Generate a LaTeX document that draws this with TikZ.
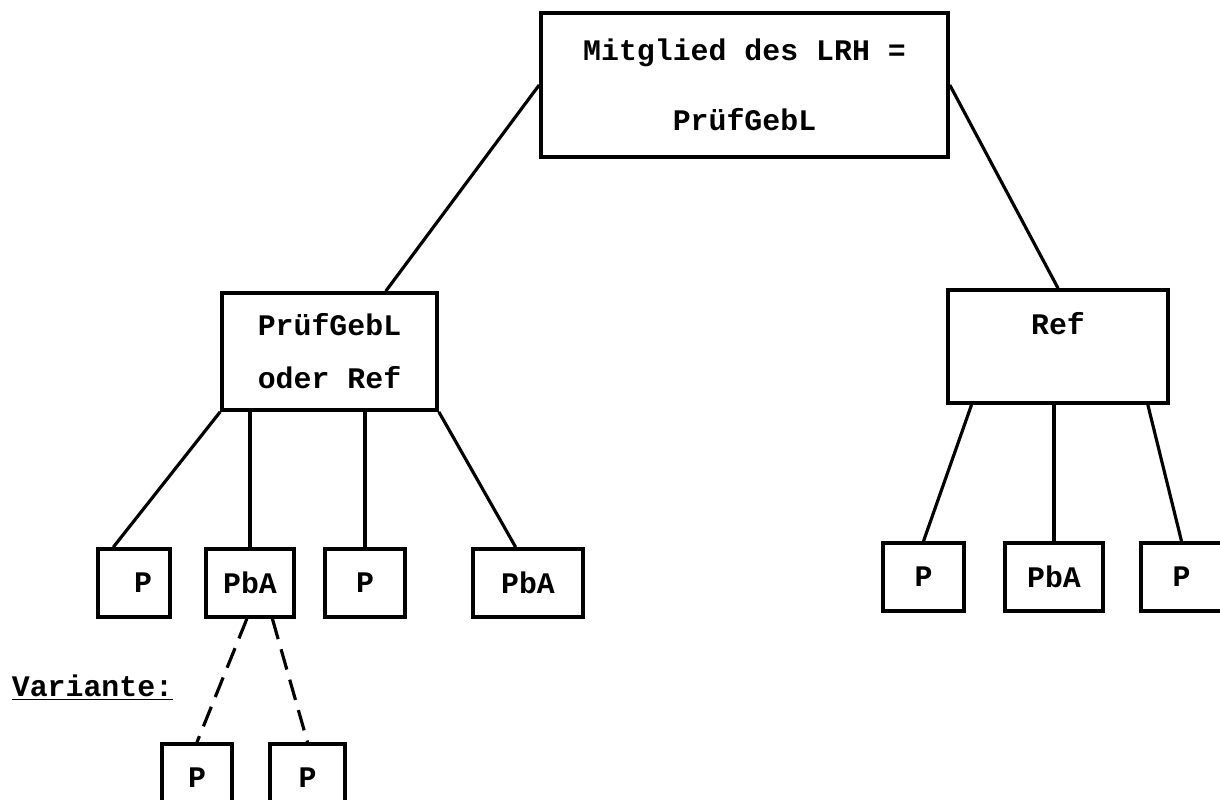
\documentclass[tikz,border=0pt]{standalone}
\usepackage{fontspec}
\setmonofont{Liberation Mono}
\begin{document}
\begin{tikzpicture}[x=0.02cm,y=-0.02cm]
	\tikzstyle{boxes} = [draw=black, line width=2.1pt, inner sep=0pt, align=center, font=\ttfamily\bfseries\fontsize{17}{20}\selectfont]
	\tikzstyle{head} = [boxes, minimum width=8.14cm, minimum height=2.88cm]
	\tikzstyle{group} = [boxes, minimum width=4.3cm, minimum height=2.34cm]
	\tikzstyle{leaf} = [boxes, minimum height=1.36cm]
	\tikzstyle{link} = [line width=1.8pt]
	\tikzstyle{variant} = [link, dash pattern=on 12pt off 6pt]
	
	\useasboundingbox (0,0) rectangle (1220,800);
	\clip (0,0) rectangle (1220,800);
	
	\node[head] (Head) at (744.5,85) {Mitglied des LRH =\\[0.7cm]PrüfGebL};
	\node[group] (Mixed) at (329.5,351.5) {PrüfGebL\\[0.36cm]oder Ref};
	\node[group, minimum width=4.4cm, minimum height=2.26cm] (Ref) at (1058,346.5) {Ref\\\strut};
	\draw[link] (Head.west) -- (Mixed.47);
	\draw[link] (Head.east) -- (Ref.north);
	
	\node[leaf, minimum width=1.44cm] (MixedP) at (134,583) {\hspace*{0.36cm}P};
	\node[leaf, minimum width=1.76cm] (MixedPbA) at (250,583) {PbA};
	\node[leaf, minimum width=1.6cm] (MixedPTwo) at (365,583) {P};
	\node[leaf, minimum width=2.2cm] (MixedPbATwo) at (528,583) {PbA};
	\draw[link] (Mixed.south west) -- (MixedP.120);
	\draw[link] (MixedPbA.north |- Mixed.south) -- (MixedPbA.north);
	\draw[link] (MixedPTwo.north |- Mixed.south) -- (MixedPTwo.north);
	\draw[link] (Mixed.south east) -- (MixedPbATwo.109);
	
	\node[leaf, minimum width=1.62cm] (RefP) at (923.5,577) {P};
	\node[leaf, minimum width=1.96cm] (RefPbA) at (1054,577) {PbA};
	\node[leaf, minimum width=1.62cm] (RefPTwo) at (1181.5,577) {P};
	\draw[link] (Ref.214) -- (RefP.north);
	\draw[link] (RefPbA.north |- Ref.south) -- (RefPbA.north);
	\draw[link] (Ref.327) -- (RefPTwo.north);
	
	\node[boxes, draw=none, anchor=east] (Variante) at (175,688) {\underline{Variante:}};
	\node[leaf, minimum width=1.4cm] (VarP) at (197,778) {P};
	\node[leaf, minimum width=1.5cm] (VarPTwo) at (307.5,778) {P};
	\draw[variant] (MixedPbA.265) -- (VarP.north);
	\draw[variant] (MixedPbA.302) -- (VarPTwo.north);
\end{tikzpicture}
\end{document}
